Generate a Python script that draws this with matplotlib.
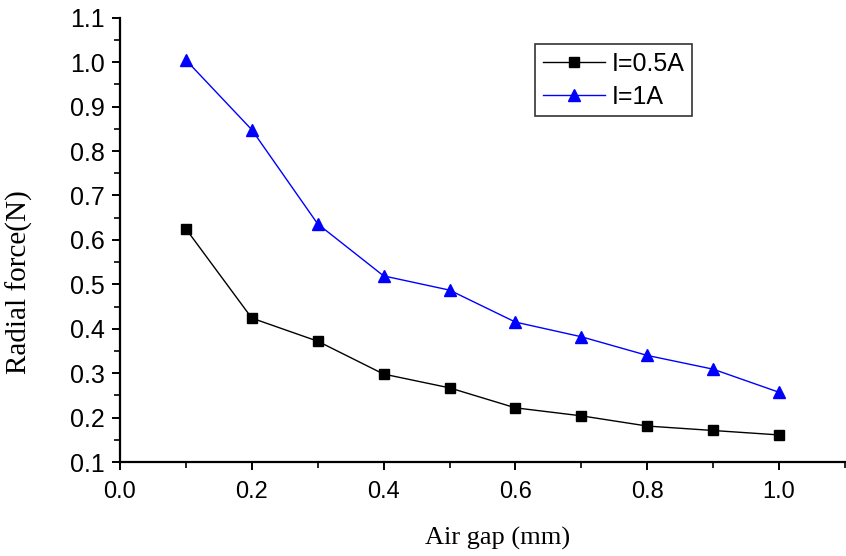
import matplotlib.pyplot as plt
from matplotlib.ticker import MultipleLocator

gap = [0.1, 0.2, 0.3, 0.4, 0.5, 0.6, 0.7, 0.8, 0.9, 1.0]
force_05 = [0.625, 0.424, 0.372, 0.298, 0.267, 0.222, 0.204, 0.181, 0.171, 0.161]
force_1 = [1.005, 0.848, 0.636, 0.519, 0.487, 0.415, 0.382, 0.340, 0.309, 0.257]

fig = plt.figure(figsize=(8.46, 5.56), dpi=100)
ax = fig.add_axes([0.1418, 0.169, 0.857, 0.799])

ax.plot(gap, force_05, color='black', marker='s', markersize=7.5, lw=1, label='I=0.5A')
ax.plot(gap, force_1, color='blue', marker='^', markersize=8.5, lw=1, label='I=1A')

ax.set_xlim(0.0, 1.1)
ax.set_ylim(0.1, 1.1)
ax.set_xticks([0.0, 0.2, 0.4, 0.6, 0.8, 1.0])
ax.xaxis.set_minor_locator(MultipleLocator(0.1))
ax.yaxis.set_major_locator(MultipleLocator(0.1))
ax.yaxis.set_minor_locator(MultipleLocator(0.05))

for s in ['top', 'right']:
    ax.spines[s].set_visible(False)
for s in ['left', 'bottom']:
    ax.spines[s].set_linewidth(1.6)

ax.tick_params(which='major', direction='out', length=6, width=1.4)
ax.tick_params(which='minor', direction='out', length=4, width=1.2)
ax.tick_params(axis='y', labelsize=18, pad=5)
ax.tick_params(axis='x', labelsize=17, pad=8)
for lab in ax.get_yticklabels() + ax.get_xticklabels():
    lab.set_family(['Liberation Sans', 'DejaVu Sans'])

ax.set_xlabel('Air gap (mm)', family='Liberation Serif', fontsize=19)
ax.set_ylabel('Radial force(N)', family='Liberation Serif', fontsize=21)
ax.xaxis.set_label_coords(0.521, -0.146)
ax.yaxis.set_label_coords(-0.12, 0.405)

leg = ax.legend(loc='upper left', bbox_to_anchor=(0.573, 0.94), frameon=True,
                fancybox=False, edgecolor='black', prop={'family': 'Liberation Sans', 'size': 18},
                handlelength=2.5, borderpad=0.3, labelspacing=0.35, handletextpad=0.25,
                borderaxespad=0)
leg.get_frame().set_linewidth(1.2)

fig.savefig('out.png', dpi=100)
